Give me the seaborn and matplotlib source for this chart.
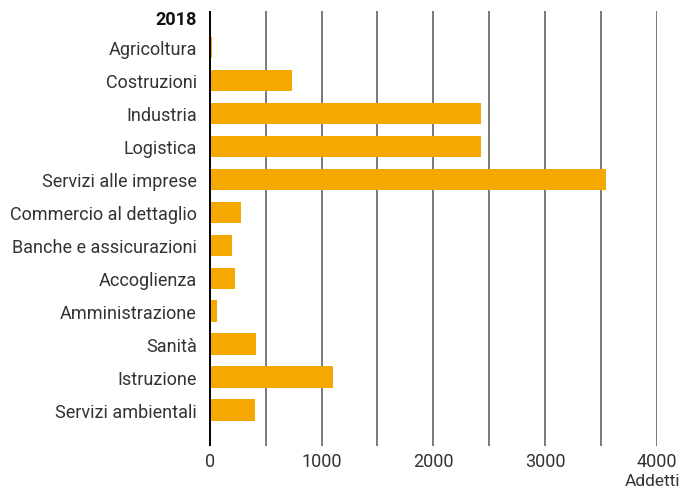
from matplotlib import pyplot as plt
import pandas as pd
import seaborn as sns

# Data
categories = ['Agricoltura', 'Costruzioni', 'Industria', 'Logistica', 'Servizi alle imprese',
              'Commercio al dettaglio', 'Banche e assicurazioni', 'Accoglienza',
              'Amministrazione', 'Sanità', 'Istruzione', 'Servizi ambientali']
addetti = [20, 735, 2425, 2425, 3545, 280, 200, 230, 65, 415, 1100, 405]
year = '2018'

df = pd.DataFrame({'settore': categories, 'addetti': addetti})

sns.set_style('white')
plt.rcParams['font.family'] = ['Roboto', 'DejaVu Sans']

fig = plt.figure(figsize=(6.84, 4.89), dpi=100)
ax = fig.add_axes([0.306, 0.086, 0.6545, 0.889])

# Grid lines every 500
for v in range(500, 4001, 500):
    ax.axvline(v, color='#555555', lw=1.1, zorder=0)

sns.barplot(data=df, x='addetti', y='settore', color='#f5a800', width=0.64,
            saturation=1, linewidth=0, ax=ax, zorder=2)
ax.axvline(0, color='black', lw=1.4, zorder=3)

ax.set_xlim(-4, 4000)
ax.set_ylim(12.09, -1.09)
ax.set_xticks([0, 1000, 2000, 3000, 4000])
ax.tick_params(axis='x', labelsize=13, colors='#333333', length=0, pad=4)
ax.tick_params(axis='y', labelsize=13, colors='#333333', length=0, pad=9)
for s in ax.spines.values():
    s.set_visible(False)
ax.set_xlabel('')
ax.set_ylabel('')

ax.text(-120, -0.85, year, ha='right', va='center', fontsize=13,
        fontweight='bold', color='#111111')
fig.text(0.994, 0.0, 'Addetti', ha='right', va='bottom', fontsize=12.5, color='#333333')

fig.savefig('out.png', dpi=100)
